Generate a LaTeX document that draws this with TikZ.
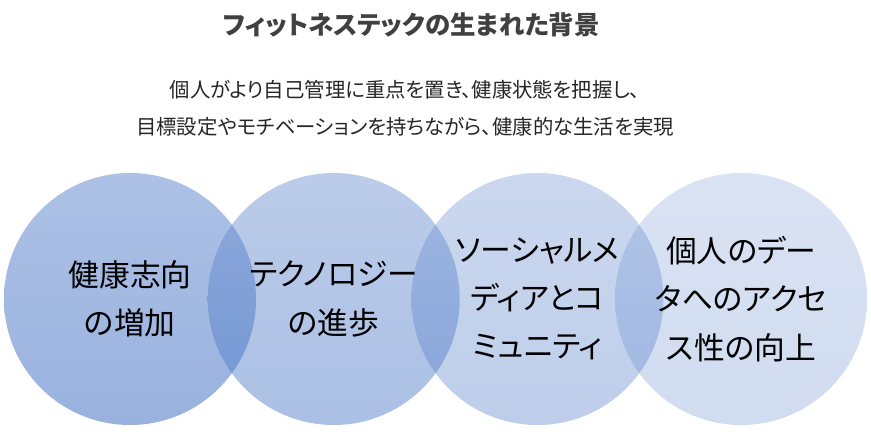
\documentclass[tikz,border=0pt]{standalone}
\usepackage{fontspec}
\setmainfont[RawFeature={+palt}]{Noto Sans CJK JP}
\usetikzlibrary{positioning}

\definecolor{venn}{RGB}{68,114,196}
\definecolor{titlegray}{RGB}{64,64,64}
\definecolor{textgray}{RGB}{38,38,38}

\begin{document}
\begin{tikzpicture}[
			node distance=-0.98cm,
			ring/.style={circle, inner sep=0pt, minimum size=5.04cm, align=center,
				top color=venn!80!white, bottom color=venn, text opacity=1,
				font=\fontsize{17.5pt}{27.5pt}\selectfont, text=black},
			title/.style={font=\bfseries\fontsize{14.5pt}{16pt}\selectfont, text=titlegray},
			lead/.style={align=center, font=\fontsize{11.6pt}{21pt}\selectfont, text=textgray}
		]
			\useasboundingbox (0,0) rectangle (17.42,-8.78);

			\node[title] (head) at (8.23,-0.5) {フィットネステックの生まれた背景};
			\node[lead] (sub) at (8.1,-2.17) {個人がより自己管理に重点を置き、健康状態を把握し、\\目標設定やモチベーションを持ちながら、健康的な生活を実現};

			\node[ring, fill opacity=0.55] (health) at (2.6,-5.98) {健康志向\\の増加};
			\node[ring, fill opacity=0.45, right=of health] (tech) {テクノロジー\\の進歩};
			\node[ring, fill opacity=0.35, right=of tech] (social) {ソーシャルメ\\ディアとコ\\ミュニティ};
			\node[ring, fill opacity=0.25, right=of social] (data) {個人のデー\\タへのアクセ\\ス性の向上};
		\end{tikzpicture}
\end{document}
